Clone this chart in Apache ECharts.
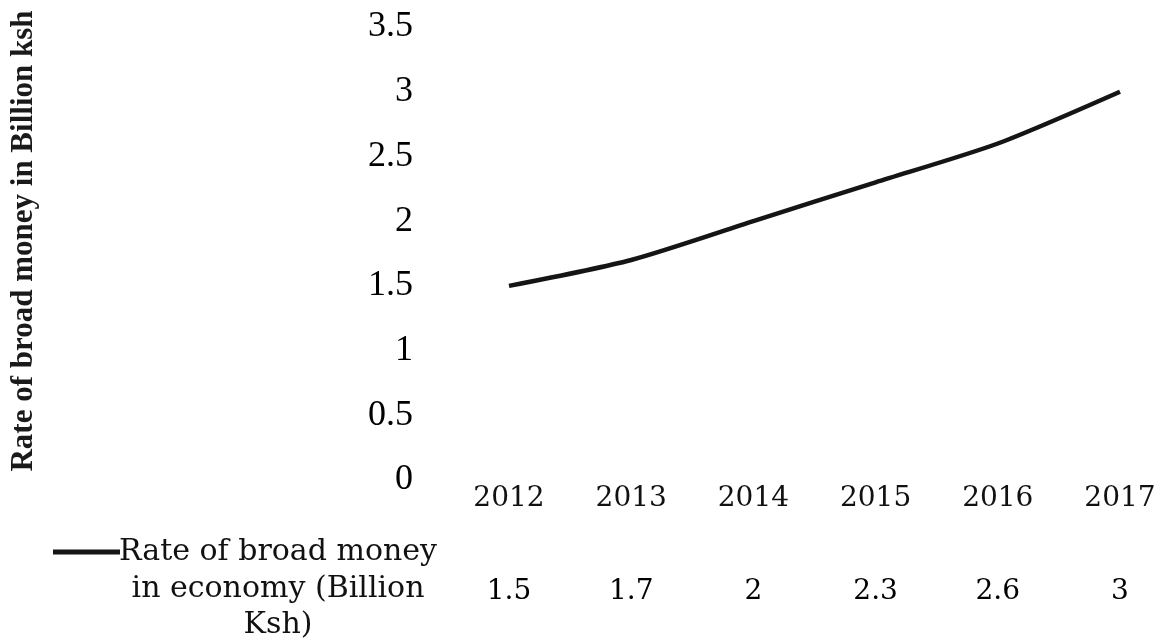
<!DOCTYPE html>
<html>
<head>
<meta charset="utf-8">
<script src="https://cdn.jsdelivr.net/npm/echarts@6/dist/echarts.min.js"></script>
<style>
html,body{margin:0;padding:0;background:#fff;}
#chart{width:1160px;height:641px;}
</style>
</head>
<body>
<div id="chart"></div>
<script>
const years = ['2012', '2013', '2014', '2015', '2016', '2017'];
const broadMoney = [1.5, 1.7, 2, 2.3, 2.6, 3];
const seriesName = 'Rate of broad money\nin economy (Billion\nKsh)';
const yAxisTitle = 'Rate of broad money in Billion ksh';

const chart = echarts.init(document.getElementById('chart'), null, {renderer: 'canvas'});
const serif = '"DejaVu Serif", serif';
const times = '"Liberation Serif", "Times New Roman", serif';

chart.setOption({
  backgroundColor: '#ffffff',
  animation: false,
  grid: {left: 509, right: 40, top: 27, bottom: 161, containLabel: false, outerBoundsMode: 'none'},
  xAxis: [
    {
      type: 'category',
      data: years,
      boundaryGap: false,
      axisLine: {show: false},
      axisTick: {show: false},
      splitLine: {show: false},
      axisLabel: {margin: 5, color: '#111', fontFamily: serif, fontSize: 28, lineHeight: 28, interval: 0}
    },
    {
      type: 'category',
      position: 'bottom',
      offset: 94,
      data: broadMoney.map(String),
      boundaryGap: false,
      axisLine: {show: false},
      axisTick: {show: false},
      splitLine: {show: false},
      axisLabel: {margin: 4, color: '#000', fontFamily: serif, fontSize: 28, lineHeight: 28, interval: 0}
    }
  ],
  yAxis: {
    type: 'value',
    min: 0,
    max: 3.5,
    interval: 0.5,
    axisLine: {show: false},
    axisTick: {show: false},
    splitLine: {show: false},
    axisLabel: {margin: 96, color: '#000', fontFamily: times, fontSize: 36}
  },
  series: [{
    name: seriesName,
    type: 'line',
    data: broadMoney,
    smooth: 0.25,
    symbol: 'none',
    lineStyle: {color: '#151515', width: 4.5}
  }],
  graphic: [
    {type: 'text', x: 24, y: 241, rotation: Math.PI / 2,
     style: {text: yAxisTitle, fill: '#1a1a1a', font: 'bold 31px "Liberation Serif", "Times New Roman", serif', align: 'center', verticalAlign: 'middle'}},
    {type: 'line', shape: {x1: 53, y1: 552, x2: 120, y2: 552}, style: {stroke: '#151515', lineWidth: 5}},
    {type: 'text', x: 278, y: 534, style: {text: seriesName, fill: '#111', font: '30px "DejaVu Serif", serif', lineHeight: 36.5, align: 'center', verticalAlign: 'top'}}
  ]
});
</script>
</body>
</html>
